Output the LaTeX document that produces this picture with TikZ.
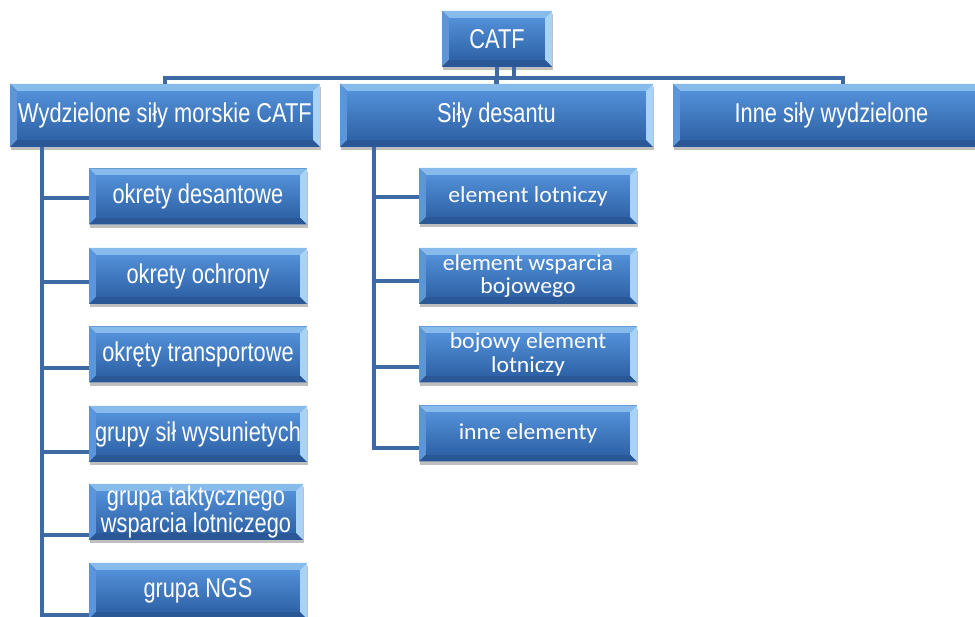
\documentclass[tikz,border=0pt]{standalone}
\usepackage{fontspec}
\setmainfont[FakeStretch=0.8]{Liberation Sans}
\newfontfamily\calfont[FakeStretch=1.04]{Carlito}
\usetikzlibrary{shadows,calc}

\definecolor{boxtop}{HTML}{5290D8}
\definecolor{boxbot}{HTML}{2F62A6}
\definecolor{bevlight}{HTML}{86BBEC}
\definecolor{bevside}{HTML}{5C96DA}
\definecolor{bevright}{HTML}{A8D3F6}
\definecolor{bevdark}{HTML}{2A5896}
\definecolor{linkblue}{HTML}{3D6AA3}

\tikzset{bevel/.style={path picture={
  \fill[bevlight] (path picture bounding box.north west) -- (path picture bounding box.north east)
    -- ([shift={(-#1,-#1)}]path picture bounding box.north east) -- ([shift={(#1,-#1)}]path picture bounding box.north west) -- cycle;
  \fill[bevside] (path picture bounding box.north west) -- ([shift={(#1,-#1)}]path picture bounding box.north west)
    -- ([shift={(#1,#1)}]path picture bounding box.south west) -- (path picture bounding box.south west) -- cycle;
  \fill[bevright] (path picture bounding box.north east) -- ([shift={(-#1,-#1)}]path picture bounding box.north east)
    -- ([shift={(-#1,#1)}]path picture bounding box.south east) -- (path picture bounding box.south east) -- cycle;
  \fill[bevdark] (path picture bounding box.south west) -- ([shift={(#1,#1)}]path picture bounding box.south west)
    -- ([shift={(-#1,#1)}]path picture bounding box.south east) -- (path picture bounding box.south east) -- cycle;
  \shade[top color=boxtop,bottom color=boxbot] ([shift={(#1,-#1)}]path picture bounding box.north west)
    rectangle ([shift={(-#1,#1)}]path picture bounding box.south east);
}}}
\tikzstyle{orgbox}=[rectangle,draw=none,fill=boxbot,text=white,align=center,inner sep=0pt,
  bevel=4pt,drop shadow={shadow xshift=0.6pt,shadow yshift=-1.8pt,opacity=.25,fill=black},
  font=\fontsize{15.5}{15.4}\selectfont]
\tikzstyle{topbox}=[orgbox,minimum width=6.2cm,minimum height=1.26cm]
\tikzstyle{subbox}=[orgbox,minimum width=4.36cm,minimum height=1.12cm]
\tikzstyle{calbox}=[subbox,font=\calfont\fontsize{13}{13.4}\selectfont]
\tikzstyle{link}=[draw=linkblue,line width=2.7pt]

\begin{document}
\begin{tikzpicture}[x=0.02cm,y=-0.02cm]
\useasboundingbox (0,0) rectangle (975,617);

\node [orgbox,minimum width=2.2cm,minimum height=1.12cm] (catf) at (497,39) {CATF};
\node [topbox] (naval)   at (165,115.5) {Wydzielone siły morskie CATF};
\node [topbox,minimum width=6.26cm] (landing) at (496.5,115.5) {Siły desantu};
\node [topbox,minimum width=6.34cm] (other)   at (831.5,115.5) {Inne siły wydzielone};

\node [subbox] (c1) at (198,196.5) {okrety desantowe};
\node [subbox] (c2) at (198,276)   {okrety ochrony};
\node [subbox] (c3) at (198,354.5) {okręty transportowe};
\node [subbox] (c4) at (198,434)   {grupy sił wysunietych};
\node [subbox,minimum width=4.28cm] (c5) at (196,512) {grupa taktycznego\\wsparcia lotniczego};
\node [subbox] (c6) at (198,591)   {grupa NGS};

\node [calbox] (m1) at (528,196)   {element lotniczy};
\node [calbox] (m2) at (528,276)   {element wsparcia\\bojowego};
\node [calbox] (m3) at (528,354.5) {bojowy element\\lotniczy};
\node [calbox] (m4) at (528,433.5) {inne elementy};

\coordinate (bus)  at (0,78);
\coordinate (busR) at (843,78);
\coordinate (stem) at ([xshift=0.34cm]catf.south);
\coordinate (ltrunk) at (42,147);
\coordinate (mtrunk) at (374,147);

\begin{scope}[on background layer/.try]
\draw[link] (catf.south) -- (catf.south |- bus);
\draw[link] (stem) -- (stem |- bus);
\draw[link] (naval.north) |- (busR) -- (busR |- other.north);
\draw[link] (landing.north) -- (landing.north |- bus);
\foreach \c/\d in {c1/1.5,c2/6,c3/13.5,c4/18,c5/23,c6/24}
  \draw[link] ([yshift=-\d*0.02cm]\c.west) -| (ltrunk);
\foreach \c/\d in {m1/1,m2/5,m3/12.5,m4/14.5}
  \draw[link] ([yshift=-\d*0.02cm]\c.west) -| (mtrunk);
\end{scope}
\end{tikzpicture}
\end{document}
